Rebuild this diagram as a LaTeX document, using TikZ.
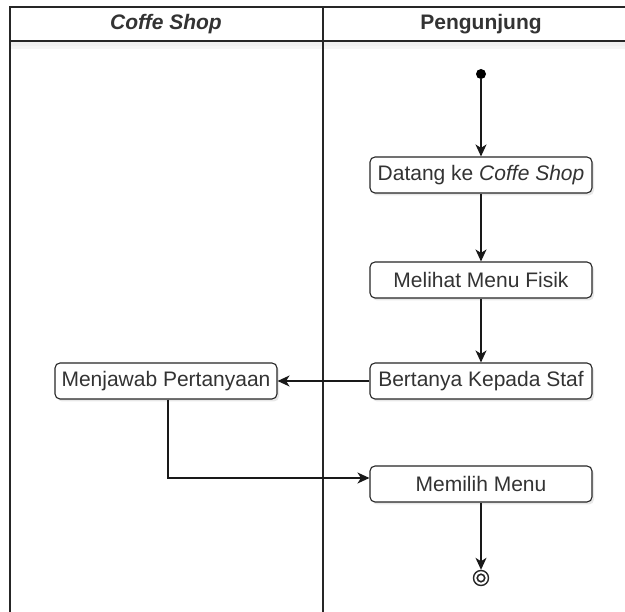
\documentclass[tikz,border=0pt]{standalone}
\usepackage{fontspec}
\setmainfont{Liberation Sans}
\usetikzlibrary{arrows.meta,shadows}
\definecolor{txt}{HTML}{333333}
\tikzset{
  act/.style={draw=black!85, line width=1.1pt, rounded corners=5pt, fill=white,
    minimum width=222pt, minimum height=36pt, inner sep=0pt,
    font=\fontsize{21}{24}\selectfont, text=txt,
    drop shadow={shadow xshift=2pt, shadow yshift=-2.5pt, opacity=0.18}},
  flow/.style={draw=black!90, line width=1.2pt, -{Stealth[length=12pt,width=11pt,inset=3.5pt]}},
  lane/.style={draw=black!85, line width=1.4pt},
  head/.style={font=\fontsize{21}{24}\selectfont\bfseries, text=txt}
}
\begin{document}
\begin{tikzpicture}[x=1pt,y=-1pt]
\useasboundingbox (0,0) rectangle (625,612);
% header shadow
\fill[black, opacity=0.06] (11,42) rectangle (625,46);
\fill[black, opacity=0.04] (11,46) rectangle (625,49);
% lanes
\draw[lane] (10,612) -- (10,7) -- (626,7);
\draw[lane] (10,41) -- (626,41);
\draw[lane] (323,7) -- (323,612);
\node[head] (h1) at (166,24) {\itshape Coffe Shop};
\node[head] (h2) at (481,24) {Pengunjung};
% nodes
\node[circle, fill=black, inner sep=0pt, minimum size=10pt] (start) at (481,74) {};
\node[act] (datang) at (481,175) {Datang ke \textit{Coffe Shop}};
\node[act] (melihat) at (481,280) {Melihat Menu Fisik};
\node[act] (bertanya) at (481,381) {Bertanya Kepada Staf};
\node[act] (menjawab) at (166,381) {Menjawab Pertanyaan};
\node[act] (memilih) at (481,484) {Memilih Menu};
\node[circle, draw=black!85, line width=1.4pt, fill=white, inner sep=0pt, minimum size=15pt] (end) at (481,578) {};
\node[circle, draw=black!85, line width=1.6pt, inner sep=0pt, minimum size=7.5pt] (endin) at (481,578) {};
% flows
\draw[flow] (start) -- (datang);
\draw[flow] (datang) -- (melihat);
\draw[flow] (melihat) -- (bertanya);
\draw[flow] (bertanya) -- (menjawab);
\coordinate (bend) at (168,478);
\draw[flow] (menjawab.south -| bend) -- (bend) -- (bend -| memilih.west);
\draw[flow] (memilih) -- (end);
\end{tikzpicture}
\end{document}
